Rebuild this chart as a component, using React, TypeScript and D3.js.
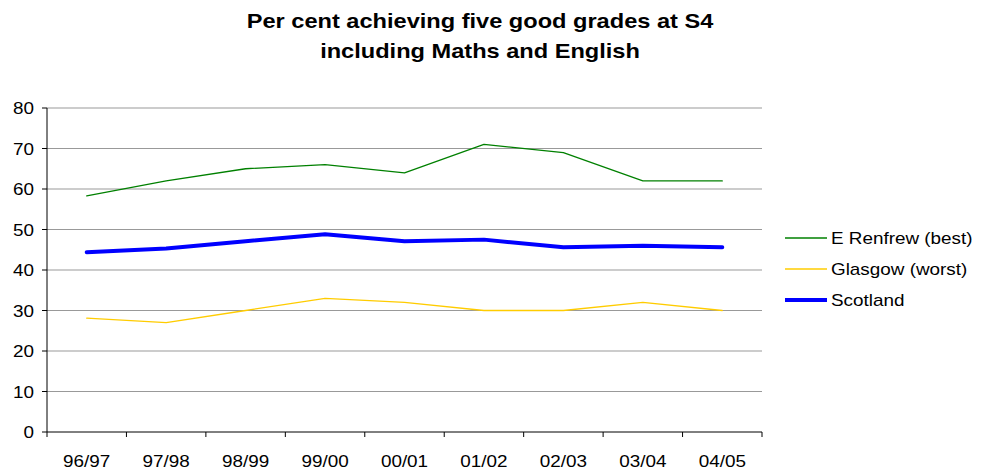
import React from "react";
import * as d3 from "d3";

const categories = ["96/97", "97/98", "98/99", "99/00", "00/01", "01/02", "02/03", "03/04", "04/05"];
const eRenfrew = [58.3, 62, 65, 66, 64, 71, 69, 62, 62];
const glasgow = [28.1, 27, 30, 33, 32, 30, 30, 32, 30];
const scotland = [44.4, 45.3, 47.1, 48.8, 47.1, 47.5, 45.6, 46, 45.6];
const yTicks = [0, 10, 20, 30, 40, 50, 60, 70, 80];
const titleLines = ["Per cent achieving five good grades at S4", "including Maths and English"];

const seriesList = [
  { name: "E Renfrew (best)", values: eRenfrew, color: "#008000", width: 1.3 },
  { name: "Glasgow (worst)", values: glasgow, color: "#FFCC00", width: 1.3 },
  { name: "Scotland", values: scotland, color: "#0000FF", width: 4 },
];

const SX = 1.18;

function T(props: { x: number; y: number; size: number; anchor?: string; bold?: boolean; children: React.ReactNode }) {
  return (
    <text
      transform={`translate(${props.x},${props.y}) scale(${SX},1)`}
      textAnchor={props.anchor || "start"}
      fontSize={props.size}
      fontWeight={props.bold ? "bold" : "normal"}
      fill="#000"
    >
      {props.children}
    </text>
  );
}

export default function App() {
  const W = 981, H = 470;
  const x0 = 47, x1 = 762, yTop = 108, yBot = 432;
  const x = d3.scaleBand().domain(categories).range([x0, x1]);
  const y = d3.scaleLinear().domain([0, 80]).range([yBot, yTop]);
  const cx = (c: string) => (x(c) as number) + x.bandwidth() / 2;
  const font = "Arial, 'Liberation Sans', sans-serif";
  return (
    <svg width={W} height={H} style={{ position: "absolute", left: 0, top: 0 }} fontFamily={font}>
      <rect width={W} height={H} fill="#fff" />
      {titleLines.map((t, i) => (
        <T key={i} x={480} y={28 + i * 30} size={20} anchor="middle" bold>{t}</T>
      ))}
      {yTicks.filter(t => t > 0).map(t => (
        <line key={t} x1={x0} x2={x1} y1={y(t)} y2={y(t)} stroke="#999" strokeWidth={1} />
      ))}
      <line x1={x0} x2={x0} y1={yTop} y2={yBot} stroke="#000" strokeWidth={1} />
      <line x1={x0} x2={x1} y1={yBot} y2={yBot} stroke="#000" strokeWidth={1} />
      {yTicks.map(t => (
        <g key={t}>
          <line x1={x0 - 5} x2={x0} y1={y(t)} y2={y(t)} stroke="#000" />
          <T x={34} y={y(t) + 6} size={16} anchor="end">{t}</T>
        </g>
      ))}
      {categories.map((c, i) => (
        <line key={"t" + i} x1={x(c) as number} x2={x(c) as number} y1={yBot} y2={yBot + 5} stroke="#000" />
      ))}
      <line x1={x1} x2={x1} y1={yBot} y2={yBot + 5} stroke="#000" />
      {categories.map(c => (
        <T key={c} x={cx(c)} y={467} size={16} anchor="middle">{c}</T>
      ))}
      {seriesList.map(s => {
        const line = d3.line<number>().x((_, i) => cx(categories[i])).y(v => y(v));
        return <path key={s.name} d={line(s.values) as string} fill="none" stroke={s.color} strokeWidth={s.width} strokeLinejoin="round" strokeLinecap="round" />;
      })}
      {seriesList.map((s, i) => {
        const ly = 238 + i * 31;
        return (
          <g key={s.name}>
            <line x1={785} x2={827} y1={ly} y2={ly} stroke={s.color} strokeWidth={s.width} />
            <T x={831} y={ly + 6} size={16}>{s.name}</T>
          </g>
        );
      })}
    </svg>
  );
}
